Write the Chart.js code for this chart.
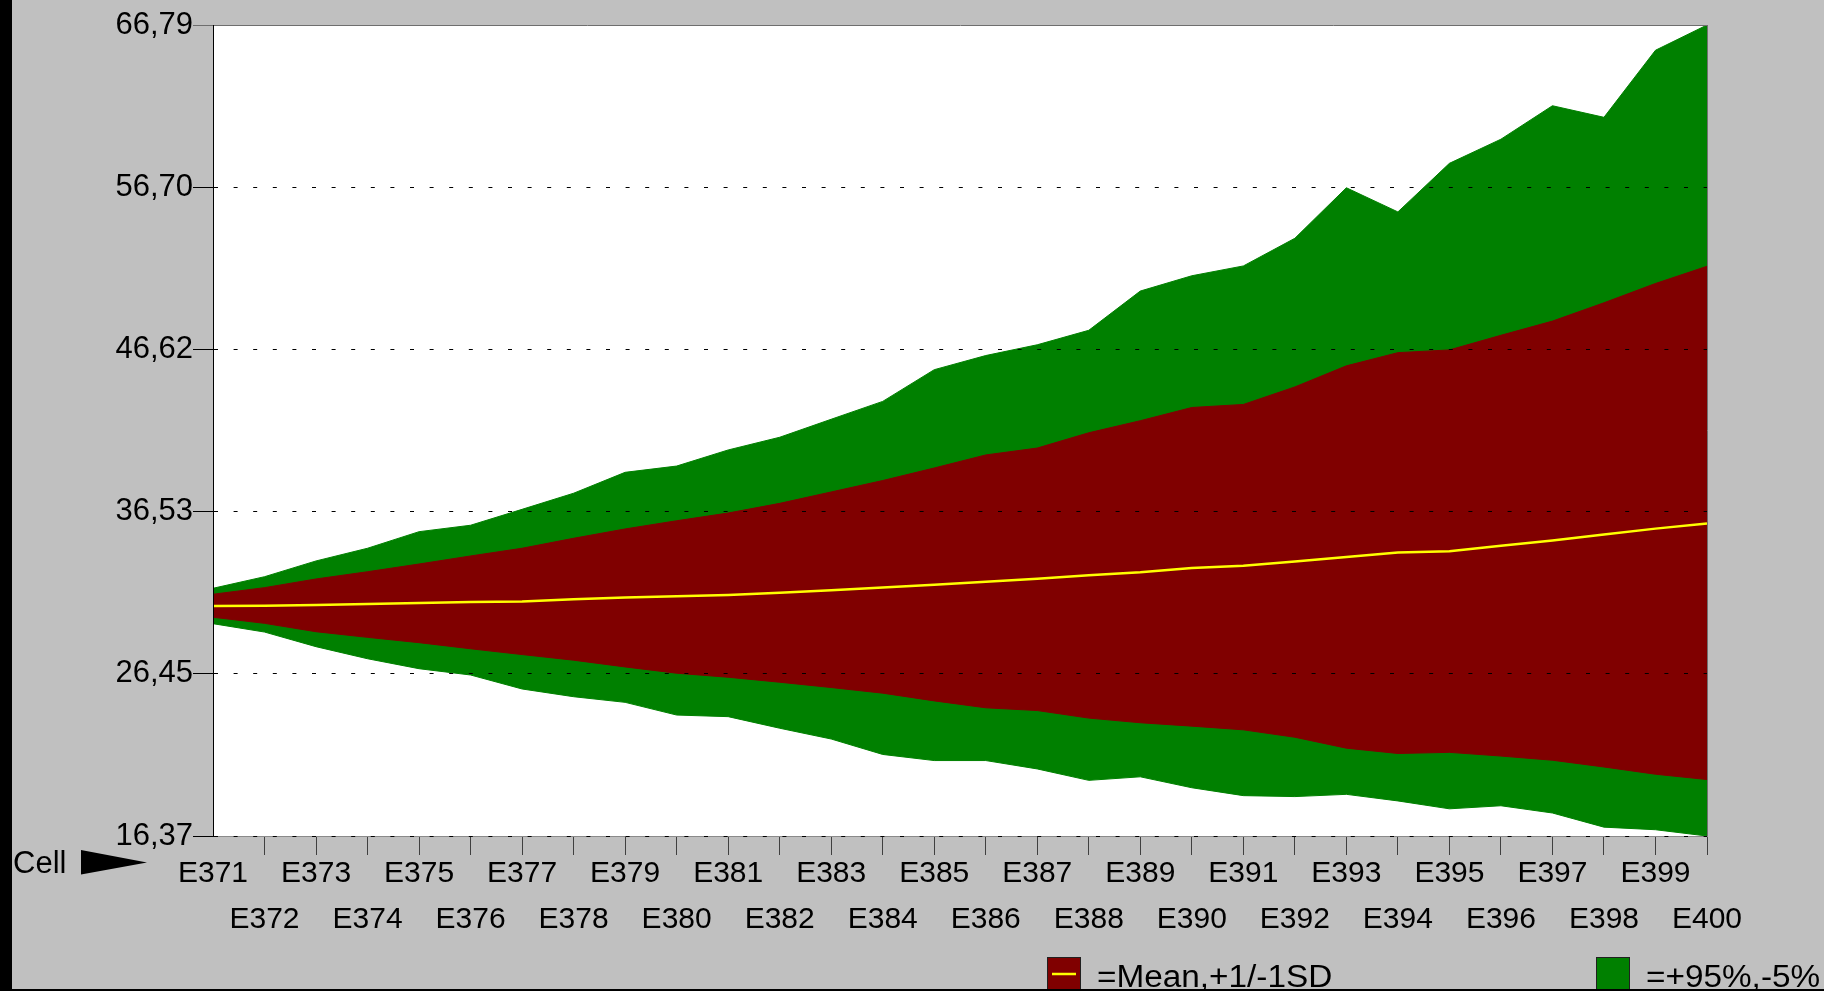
<!DOCTYPE html>
<html>
<head>
<meta charset="utf-8">
<style>
  html, body { margin: 0; padding: 0; background: #c0c0c0; overflow: hidden; }
  canvas { display: block; }
</style>
<script src="https://cdn.jsdelivr.net/npm/chart.js@4/dist/chart.umd.min.js"></script>
</head>
<body>
<canvas id="c" width="1824" height="991"></canvas>
<script>
const categories = ['E371','E372','E373','E374','E375','E376','E377','E378','E379','E380',
                    'E381','E382','E383','E384','E385','E386','E387','E388','E389','E390',
                    'E391','E392','E393','E394','E395','E396','E397','E398','E399','E400'];
const p95 = [31.77,32.49,33.47,34.26,35.29,35.69,36.68,37.68,38.98,39.37,40.37,41.16,42.28,43.39,45.36,
             46.24,46.91,47.81,50.25,51.20,51.81,53.53,56.67,55.17,58.19,59.69,61.77,61.05,65.22,66.79];
const plus1sd = [31.40,31.81,32.35,32.80,33.28,33.78,34.26,34.88,35.46,35.97,36.45,37.05,37.76,38.47,39.25,
                 40.06,40.49,41.44,42.19,43.01,43.20,44.29,45.60,46.42,46.59,47.50,48.38,49.52,50.72,51.79];
const mean = [30.67,30.69,30.73,30.79,30.86,30.92,30.95,31.09,31.19,31.27,31.35,31.50,31.65,31.82,31.99,
              32.18,32.37,32.58,32.76,33.03,33.17,33.44,33.72,33.99,34.08,34.41,34.74,35.12,35.48,35.80];
const minus1sd = [29.97,29.59,29.07,28.72,28.39,28.01,27.65,27.30,26.88,26.49,26.24,25.93,25.60,25.25,24.77,
                  24.34,24.17,23.70,23.41,23.20,22.97,22.51,21.83,21.50,21.57,21.34,21.08,20.66,20.21,19.88];
const p5 = [29.57,29.05,28.14,27.39,26.77,26.38,25.51,25.03,24.68,23.89,23.79,23.07,22.40,21.44,21.06,
            21.06,20.54,19.83,20.05,19.37,18.88,18.82,18.96,18.55,18.06,18.25,17.80,16.92,16.76,16.37];
const yTickValues = [16.37, 26.45, 36.53, 46.62, 56.70, 66.79];
const yTickLabels = ['16,37', '26,45', '36,53', '46,62', '56,70', '66,79'];
const axisTitle = 'Cell';
const legendLabels = ['=Mean,+1/-1SD', '=+95%,-5%'];

const RED = '#800000', GREEN = '#008000', YELLOW = '#ffff00';
const FONT = "'Liberation Sans', Arial, sans-serif";
Chart.defaults.font.family = FONT;

const decor = {
  id: 'decor',
  beforeDraw(chart) {
    const ctx = chart.ctx, a = chart.chartArea;
    ctx.save();
    ctx.fillStyle = '#c0c0c0';
    ctx.fillRect(0, 0, chart.width, chart.height);
    ctx.fillStyle = '#ffffff';
    ctx.fillRect(a.left, a.top, a.right - a.left, a.bottom - a.top);
    ctx.restore();
  },
  afterDraw(chart) {
    const ctx = chart.ctx;
    ctx.save();
    ctx.fillStyle = '#000';
    ctx.fillRect(0, 0, 12, chart.height);
    // axis title "Cell" with arrow
    ctx.font = '31px ' + FONT;
    ctx.textBaseline = 'alphabetic';
    ctx.textAlign = 'left';
    ctx.fillText(axisTitle, 13, 873);
    ctx.beginPath();
    ctx.moveTo(81, 850);
    ctx.lineTo(147, 862.5);
    ctx.lineTo(81, 874.5);
    ctx.closePath();
    ctx.fill();
    // legend
    const items = [
      {x: 1047, color: RED, line: true, label: legendLabels[0]},
      {x: 1596, color: GREEN, line: false, label: legendLabels[1]}
    ];
    items.forEach(it => {
      ctx.fillStyle = it.color;
      ctx.fillRect(it.x, 957, 33, 36);
      ctx.strokeStyle = '#202020';
      ctx.lineWidth = 1;
      ctx.strokeRect(it.x + 0.5, 957.5, 33, 36);
      if (it.line) {
        ctx.strokeStyle = YELLOW;
        ctx.lineWidth = 2.5;
        ctx.beginPath();
        ctx.moveTo(it.x + 5, 974);
        ctx.lineTo(it.x + 29, 974);
        ctx.stroke();
      }
      ctx.save();
      ctx.fillStyle = '#000';
      ctx.font = '31px ' + FONT;
      ctx.translate(it.x + 50, 987);
      ctx.scale(1.075, 1);
      ctx.fillText(it.label, 0, 0);
      ctx.restore();
    });
    ctx.fillStyle = '#000';
    ctx.fillRect(0, 989, chart.width, 2);
    ctx.restore();
  }
};

const lastY = yTickValues.length - 1;

new Chart(document.getElementById('c'), {
  type: 'line',
  data: {
    labels: categories,
    datasets: [
      {label: 'Mean', data: mean, borderColor: YELLOW, borderWidth: 2.5, pointRadius: 0, fill: false, tension: 0},
      {label: '+1SD', data: plus1sd, borderColor: RED, backgroundColor: RED, borderWidth: 1, pointRadius: 0, fill: '+1', tension: 0},
      {label: '-1SD', data: minus1sd, borderColor: RED, borderWidth: 1, pointRadius: 0, fill: false, tension: 0},
      {label: '+95%', data: p95, borderColor: GREEN, backgroundColor: GREEN, borderWidth: 1, pointRadius: 0, fill: '+1', tension: 0},
      {label: '-5%', data: p5, borderColor: GREEN, borderWidth: 1, pointRadius: 0, fill: false, tension: 0}
    ]
  },
  options: {
    responsive: false,
    devicePixelRatio: 1,
    animation: false,
    events: [],
    layout: {padding: {left: 0, top: 25, right: 117, bottom: 0}},
    plugins: {legend: {display: false}, tooltip: {enabled: false}, title: {display: false}},
    scales: {
      x: {
        type: 'category',
        offset: false,
        afterFit(scale) { scale.height = 155; },
        grid: {
          display: true,
          drawOnChartArea: true,
          z: 1,
          color: c => (c.index === categories.length - 1 ? '#707070' : 'rgba(0,0,0,0)'),
          tickColor: c => (c.index === 0 ? 'rgba(0,0,0,0)' : '#404040'),
          tickLength: 19,
          lineWidth: 1
        },
        border: {display: true, color: '#8a8a8a', width: 1, z: 1},
        ticks: {
          autoSkip: false,
          maxRotation: 0,
          minRotation: 0,
          padding: -5,
          color: '#000',
          font: {size: 30, lineHeight: 1.55},
          callback: (v, i) => (i % 2 === 0 ? [categories[i], ''] : ['', categories[i]])
        }
      },
      y: {
        type: 'linear',
        min: yTickValues[0],
        max: yTickValues[lastY],
        afterFit(scale) { scale.width = 213; },
        afterBuildTicks(scale) { scale.ticks = yTickValues.map(v => ({value: v})); },
        grid: {
          display: true,
          drawOnChartArea: true,
          z: 2,
          color: c => (c.index === lastY ? '#6e6e6e' : '#000'),
          tickColor: c => (c.index === lastY ? '#6e6e6e' : '#000'),
          tickLength: 20,
          tickBorderDash: [],
          lineWidth: 1
        },
        border: {display: true, color: '#000', width: 1, z: 2, dash: c => (c.index === lastY ? [] : [4, 15.6])},
        ticks: {
          padding: 0,
          color: '#000',
          font: {size: 31},
          callback: (v, i) => yTickLabels[i]
        }
      }
    }
  },
  plugins: [decor]
});
</script>
</body>
</html>
